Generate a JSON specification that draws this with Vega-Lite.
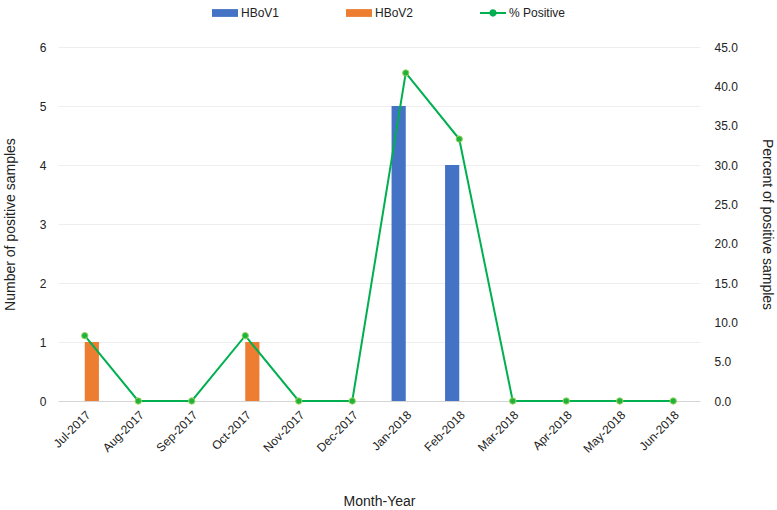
{
  "$schema": "https://vega.github.io/schema/vega-lite/v6.json",
  "width": 642,
  "height": 354,
  "autosize": "none",
  "padding": {"left": 58, "top": 47, "right": 77, "bottom": 109},
  "background": "white",
  "config": {
    "view": {"stroke": null},
    "font": "Liberation Sans",
    "axis": {"labelFont": "Liberation Sans", "titleFont": "Liberation Sans", "labelColor": "#222222", "titleColor": "#222222", "labelFontSize": 12, "titleFontSize": 14, "titleFontWeight": "normal", "ticks": false, "domain": false}
  },
  "data": {
    "values": [
      {"month": "Jul-2017", "HBoV1": 0, "HBoV2": 1, "pct": 8.3},
      {"month": "Aug-2017", "HBoV1": 0, "HBoV2": 0, "pct": 0},
      {"month": "Sep-2017", "HBoV1": 0, "HBoV2": 0, "pct": 0},
      {"month": "Oct-2017", "HBoV1": 0, "HBoV2": 1, "pct": 8.3},
      {"month": "Nov-2017", "HBoV1": 0, "HBoV2": 0, "pct": 0},
      {"month": "Dec-2017", "HBoV1": 0, "HBoV2": 0, "pct": 0},
      {"month": "Jan-2018", "HBoV1": 5, "HBoV2": 0, "pct": 41.7},
      {"month": "Feb-2018", "HBoV1": 4, "HBoV2": 0, "pct": 33.3},
      {"month": "Mar-2018", "HBoV1": 0, "HBoV2": 0, "pct": 0},
      {"month": "Apr-2018", "HBoV1": 0, "HBoV2": 0, "pct": 0},
      {"month": "May-2018", "HBoV1": 0, "HBoV2": 0, "pct": 0},
      {"month": "Jun-2018", "HBoV1": 0, "HBoV2": 0, "pct": 0}
    ]
  },
  "encoding": {
    "x": {
      "field": "month", "type": "nominal", "sort": null,
      "scale": {"paddingInner": 0.47, "paddingOuter": 0.235},
      "axis": {"title": "Month-Year", "labelAngle": -45, "labelAlign": "right", "labelBaseline": "top", "labelPadding": 8, "titlePadding": 40, "grid": false}
    }
  },
  "layer": [
    {
      "transform": [{"fold": ["HBoV1", "HBoV2"], "as": ["series", "count"]}],
      "mark": {"type": "bar"},
      "encoding": {
        "xOffset": {"field": "series", "type": "nominal", "sort": ["HBoV1", "HBoV2"]},
        "y": {
          "field": "count", "type": "quantitative",
          "scale": {"domain": [0, 6], "nice": false},
          "axis": {"title": "Number of positive samples", "values": [0,1,2,3,4,5,6], "grid": true, "gridColor": {"condition": {"test": "datum.value === 0", "value": "#d4d4d4"}, "value": "#eeeeee"}, "labelPadding": 12, "titlePadding": 22}
        },
        "color": {
          "field": "series", "type": "nominal",
          "scale": {"domain": ["HBoV1", "HBoV2", "% Positive"], "range": ["#4472C4", "#ED7D31", "#00B050"]},
          "legend": {
            "title": null, "orient": "none", "legendX": 154, "legendY": -47, "direction": "horizontal",
            "labelFontSize": 12, "labelColor": "#222222", "labelFont": "Liberation Sans",
            "symbolSize": 676, "symbolStrokeWidth": 0, "symbolOpacity": 1,
            "gridAlign": "all", "columnPadding": 48, "labelOffset": 3,
            "symbolType": "M-1,-0.3H1V0.3H-1Z",
            "encode": {"symbols": {"update": {"shape": {"signal": "datum.value === '% Positive' ? 'M-1,-0.08H1V0.08H-1Z M0.28,0A0.28,0.28 0 1,1 -0.28,0A0.28,0.28 0 1,1 0.28,0Z' : 'M-1,-0.3H1V0.3H-1Z'"}}}}
          }
        }
      }
    },
    {
      "mark": {"type": "line", "strokeWidth": 2, "point": {"filled": true, "size": 40, "fill": "#1DB33D", "stroke": "#9BD35A", "strokeWidth": 1}},
      "encoding": {
        "y": {
          "field": "pct", "type": "quantitative",
          "scale": {"domain": [0, 45], "nice": false},
          "axis": {"title": "Percent of positive samples", "orient": "right", "values": [0,5,10,15,20,25,30,35,40,45], "format": ".1f", "grid": false, "labelPadding": 14, "titlePadding": 22}
        },
        "color": {"datum": "% Positive"}
      }
    }
  ],
  "resolve": {"scale": {"y": "independent"}}
}
